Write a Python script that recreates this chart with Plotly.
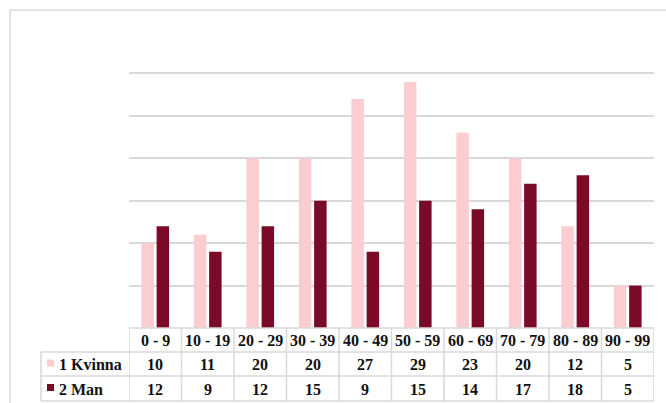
import plotly.graph_objects as go

# Age groups and counts per sex
age_groups = ["0 - 9", "10 - 19", "20 - 29", "30 - 39", "40 - 49",
              "50 - 59", "60 - 69", "70 - 79", "80 - 89", "90 - 99"]
kvinna = [10, 11, 20, 20, 27, 29, 23, 20, 12, 5]
man = [12, 9, 12, 15, 9, 15, 14, 17, 18, 5]
series_names = ["1 Kvinna", "2 Man"]

PINK = "#FBCDD0"
MAROON = "#7A0A28"
GRID = "#D9D9D9"
FONT = "Liberation Serif, Times New Roman, serif"

W, H = 666, 403
L, R, T, B = 129, 12, 31, 75
PW, PH = W - L - R, H - T - B


def py(px_y):
    """Pixel row -> paper y."""
    return (H - B - px_y) / PH


def px(px_x):
    """Pixel column -> paper x."""
    return (px_x - L) / PW


fig = go.Figure()
fig.add_trace(go.Bar(name=series_names[0], x=age_groups, y=kvinna,
                     marker=dict(color=PINK, line=dict(width=0))))
fig.add_trace(go.Bar(name=series_names[1], x=age_groups, y=man,
                     marker=dict(color=MAROON, line=dict(width=0))))

shapes = []
line = dict(color=GRID, width=1.5)

# outer chart frame
shapes.append(dict(type="line", xref="paper", yref="paper",
                   x0=px(10), x1=px(W + 5), y0=py(10), y1=py(10), line=line))
shapes.append(dict(type="line", xref="paper", yref="paper",
                   x0=px(10), x1=px(10), y0=py(10), y1=py(H + 5), line=line))

# data table below the plot
row_lines = [328, 352, 376, 401]
shapes.append(dict(type="line", xref="x", yref="paper", x0=-0.5, x1=len(age_groups) - 0.5,
                   y0=py(row_lines[0]), y1=py(row_lines[0]), line=line))
for yy in row_lines[1:]:
    shapes.append(dict(type="line", xref="paper", yref="paper", x0=px(41), x1=1,
                       y0=py(yy), y1=py(yy), line=line))
for i in range(len(age_groups) + 1):
    shapes.append(dict(type="line", xref="x", yref="paper", x0=i - 0.5, x1=i - 0.5,
                       y0=py(row_lines[0]), y1=py(row_lines[-1]), line=line))
shapes.append(dict(type="line", xref="paper", yref="paper", x0=px(41), x1=px(41),
                   y0=py(row_lines[1]), y1=py(row_lines[-1]), line=line))

# legend keys in the table
for (y0, y1), col in [((359.5, 366.5), PINK), ((384, 391), MAROON)]:
    shapes.append(dict(type="rect", xref="paper", yref="paper",
                       x0=px(47), x1=px(54), y0=py(y1), y1=py(y0),
                       fillcolor=col, line=dict(width=0)))

annotations = []
font = dict(family=FONT, size=16, color="#111111")
row_centres = [340.5, 364.5, 389]
for i, g in enumerate(age_groups):
    annotations.append(dict(x=g, xref="x", y=py(row_centres[0]), yref="paper",
                            text=f"<b>{g}</b>", showarrow=False, font=font,
                            xanchor="center", yanchor="middle"))
    for vals, rc in [(kvinna, row_centres[1]), (man, row_centres[2])]:
        annotations.append(dict(x=g, xref="x", y=py(rc), yref="paper",
                                text=f"<b>{vals[i]}</b>", showarrow=False, font=font,
                                xanchor="center", yanchor="middle"))
for name, rc in zip(series_names, row_centres[1:]):
    annotations.append(dict(x=px(57), xref="paper", y=py(rc), yref="paper",
                            text=f"<b>{name}</b>", showarrow=False, font=font,
                            xanchor="left", yanchor="middle"))

fig.update_layout(
    width=W, height=H,
    margin=dict(l=L, r=R, t=T, b=B),
    paper_bgcolor="white", plot_bgcolor="white",
    barmode="group", bargap=0.42, bargroupgap=0.18,
    showlegend=False,
    xaxis=dict(type="category", range=[-0.5, len(age_groups) - 0.5],
               showticklabels=False, showgrid=False, zeroline=False,
               showline=False, ticks=""),
    yaxis=dict(range=[0, 35], dtick=5, showticklabels=False, showgrid=True,
               gridcolor=GRID, gridwidth=1.5, zeroline=False, showline=False,
               ticks=""),
    shapes=shapes, annotations=annotations,
)

fig.write_html("out.html")
